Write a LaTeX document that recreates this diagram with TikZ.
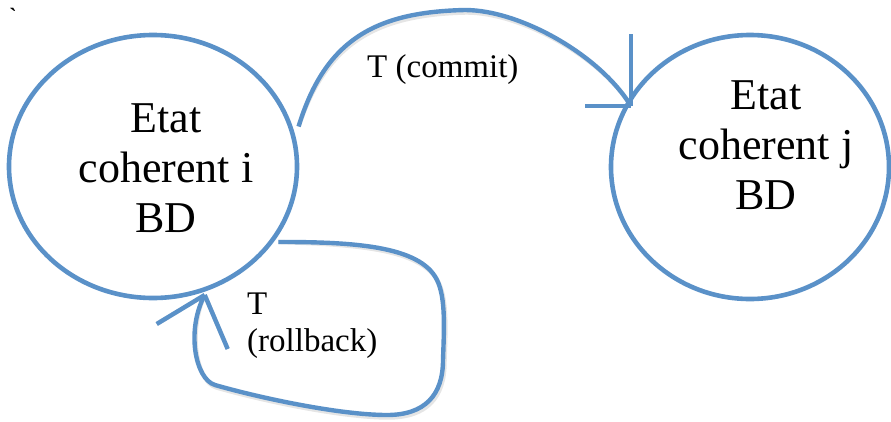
\documentclass[tikz,border=0pt]{standalone}
\usepackage{fontspec}
\setmainfont{Liberation Serif}
\usetikzlibrary{shapes.geometric,calc}
\definecolor{linkblue}{RGB}{90,145,200}
\begin{document}
\begin{tikzpicture}[x=1pt,y=-1pt,
  state/.style={ellipse, draw=linkblue, line width=4.6pt, inner sep=0pt},
  bigtext/.style={font=\fontsize{44}{50}\selectfont, align=center, inner sep=0pt},
  lbl/.style={font=\fontsize{33}{37}\selectfont, inner sep=0pt},
  flow/.style={draw=linkblue, line width=4.4pt},
  shade/.style={draw=black!40, line width=4.4pt, opacity=.25}]
\useasboundingbox (0,0) rectangle (891,421);

% small stray mark in the corner
\node[font=\fontsize{22}{22}\selectfont\bfseries, inner sep=0pt] (mark) at (13,16) {\textasciigrave};

% the two database states
\node[state, minimum width=288pt, minimum height=263pt] (ei) at (153,166.5) {};
\node[state, minimum width=278pt, minimum height=264pt] (ej) at (750,167) {};
\node[bigtext] (ti) at (166,168) {Etat\\coherent i\\BD};
\node[bigtext] (tj) at (766,145) {Etat\\coherent j\\BD};

% end points of the transitions on the state borders
\coordinate (cs) at ($(ei.16)+(6,0)$);
\coordinate (ct) at ($(ej.153)+(5.5,2.5)$);
\coordinate (rs) at ($(ei.-31)+(3,2)$);
\coordinate (rt) at ($(ei.-68)+(1,3)$);

% commit transition i -> j
\foreach \s/\o in {shade/{1.5,2.5}, flow/{0,0}} {
  \begin{scope}[shift={(\o)}]
    \draw[\s] (cs) .. controls (325,40) and (375,12) .. (465,10)
                   .. controls (520,10) and (600,55) .. (ct);
    \draw[\s] (ct) -- ++(0,-72);
    \draw[\s] (ct) -- ++(-46,0);
  \end{scope}
}

% rollback loop back onto state i
\foreach \s/\o in {shade/{1.5,2.5}, flow/{0,0}} {
  \begin{scope}[shift={(\o)}]
    \draw[\s] (rs) .. controls (350,242) and (420,245) .. (437,280)
                   .. controls (446,298) and (444,330) .. (443,360)
                   .. controls (443,395) and (425,415) .. (387,415)
                   .. controls (340,415) and (260,398) .. (215,385)
                   .. controls (195,379) and (186,330) .. (rt);
    \draw[\s] (rt) -- ++(-48,29);
    \draw[\s] (rt) -- ++(23,54);
  \end{scope}
}

% transition labels
\node[lbl, anchor=base west] (lc) at (367,77) {T (commit)};
\node[lbl, align=left, anchor=north west] (lr) at (247,293) {T\\(rollback)};
\end{tikzpicture}
\end{document}
